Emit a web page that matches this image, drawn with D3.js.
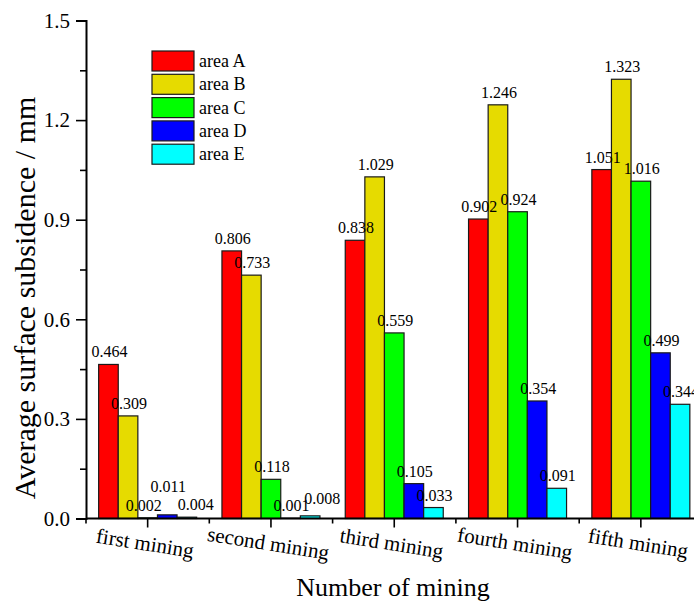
<!DOCTYPE html>
<html>
<head>
<meta charset="utf-8">
<script src="https://cdn.jsdelivr.net/npm/d3@7"></script>
<style>
  html, body { margin: 0; padding: 0; background: #fff; overflow: hidden; }
  svg text { font-family: "Liberation Serif", "Tinos", "Times New Roman", Times, "Nimbus Roman", "DejaVu Serif", serif; }
</style>
</head>
<body>
<svg id="chart" width="694" height="603"></svg>
<script>
// Mining stages along the x axis
const categories = ["first mining", "second mining", "third mining", "fourth mining", "fifth mining"];
// Monitoring areas (one bar per area in each stage)
const seriesNames = ["area A", "area B", "area C", "area D", "area E"];
const seriesColors = ["#FF0000", "#E6DB00", "#00FF00", "#0000FF", "#00FFFF"];
// Average surface subsidence (mm), one array per area, ordered by stage
const areaA = [0.464, 0.806, 0.838, 0.902, 1.051];
const areaB = [0.309, 0.733, 1.029, 1.246, 1.323];
const areaC = [0.002, 0.118, 0.559, 0.924, 1.016];
const areaD = [0.011, 0.001, 0.105, 0.354, 0.499];
const areaE = [0.004, 0.008, 0.033, 0.091, 0.344];
const seriesValues = [areaA, areaB, areaC, areaD, areaE];
// Y axis ticks
const yTickValues = [0, 0.3, 0.6, 0.9, 1.2, 1.5];
const yMinorTickValues = [0.15, 0.45, 0.75, 1.05, 1.35];

const svg = d3.select("#chart");

const x0 = 86, bandW = 123.3;
const x = d3.scaleBand().domain(categories).range([x0, x0 + bandW * categories.length]).padding(0);
const groupSpan = 98;
const xInner = d3.scaleBand().domain(seriesNames)
  .range([(bandW - groupSpan) / 2, (bandW + groupSpan) / 2]).padding(0);
const y = d3.scaleLinear().domain([0, 1.5]).range([518.5, 20.5]);

const rows = [];
categories.forEach((c, i) => {
  seriesNames.forEach((s, j) => {
    rows.push({ cat: c, series: s, value: seriesValues[j][i], color: seriesColors[j] });
  });
});

// Small label shifts where neighbouring labels of tiny bars would collide
const labelShift = {
  "first mining|area C": [-5, 0],
  "first mining|area D": [0, -16],
  "first mining|area E": [8, 0],
  "second mining|area E": [11, -5]
};
const shiftOf = d => labelShift[d.cat + "|" + d.series] || [0, 0];

// Bars
svg.append("g").selectAll("rect").data(rows).join("rect")
  .attr("x", d => x(d.cat) + xInner(d.series))
  .attr("y", d => y(d.value))
  .attr("width", xInner.bandwidth())
  .attr("height", d => y(0) - y(d.value))
  .attr("fill", d => d.color)
  .attr("stroke", "#1a1a1a")
  .attr("stroke-width", 1.2);

// Value labels
svg.append("g").selectAll("text").data(rows).join("text")
  .attr("x", d => x(d.cat) + xInner(d.series) + xInner.bandwidth() / 2 + 1 + shiftOf(d)[0])
  .attr("y", d => y(d.value) - 7 + shiftOf(d)[1])
  .attr("text-anchor", "middle")
  .attr("font-size", 16)
  .attr("fill", "#000")
  .text(d => d3.format(".3f")(d.value));

// Y axis: major ticks with labels, minor ticks without
const yAxis = svg.append("g").attr("transform", `translate(${x0},0)`)
  .call(d3.axisLeft(y).tickValues(yTickValues).tickFormat(d3.format(".1f")).tickSize(10).tickPadding(6));
yAxis.attr("font-family", null);
svg.append("g").attr("transform", `translate(${x0},0)`)
  .call(d3.axisLeft(y).tickValues(yMinorTickValues).tickFormat("").tickSize(6))
  .call(g => g.select(".domain").remove());
yAxis.selectAll("text").attr("font-size", 21).attr("fill", "#000");

// X axis: ticks at stage centres, short ticks at stage boundaries
const xAxisY = y(0);
const xAxis = svg.append("g").attr("transform", `translate(0,${xAxisY})`)
  .call(d3.axisBottom(x).tickSize(9).tickFormat(""));
xAxis.select(".domain").attr("d", `M${x0},0H694`);
const boundaries = d3.range(categories.length).map(i => x.step() * i + x0);
svg.append("g").attr("transform", `translate(0,${xAxisY})`)
  .selectAll("line").data(boundaries).join("line")
  .attr("x1", d => d).attr("x2", d => d).attr("y1", 0).attr("y2", 5)
  .attr("stroke", "#000").attr("stroke-width", 1.6);

svg.selectAll(".domain").attr("stroke", "#000").attr("stroke-width", 2);
svg.selectAll(".tick line").attr("stroke", "#000").attr("stroke-width", 1.6);

// Category labels, slightly tilted
svg.append("g").selectAll("text").data(categories).join("text")
  .attr("transform", d => `translate(${x(d) + x.bandwidth() / 2 - 3},${xAxisY + 27}) rotate(9)`)
  .attr("text-anchor", "middle")
  .attr("dominant-baseline", "middle")
  .attr("font-size", 21)
  .attr("fill", "#000")
  .text(d => d);

// Axis titles
svg.append("text")
  .attr("x", 393).attr("y", 596)
  .attr("text-anchor", "middle")
  .attr("font-size", 26)
  .attr("fill", "#000")
  .text("Number of mining");
svg.append("text")
  .attr("transform", "translate(35,298) rotate(-90)")
  .attr("text-anchor", "middle")
  .attr("font-size", 30)
  .attr("fill", "#000")
  .text("Average surface subsidence / mm");

// Legend
const legend = svg.append("g").attr("transform", "translate(152,51)");
const item = legend.selectAll("g").data(seriesNames).join("g")
  .attr("transform", (d, i) => `translate(0,${i * 23.3})`);
item.append("rect")
  .attr("width", 42).attr("height", 20)
  .attr("fill", (d, i) => seriesColors[i])
  .attr("stroke", "#1a1a1a").attr("stroke-width", 1.2);
item.append("text")
  .attr("x", 47).attr("y", 10)
  .attr("dominant-baseline", "central")
  .attr("font-size", 18)
  .attr("fill", "#000")
  .text(d => d);
</script>
</body>
</html>
